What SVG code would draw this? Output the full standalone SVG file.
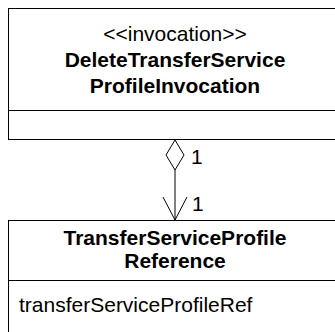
<svg xmlns="http://www.w3.org/2000/svg" width="335" height="332" viewBox="0 0 335 332">
<style>
.box{fill:#fff;stroke:#000;stroke-width:1}
.ln{stroke:#000;stroke-width:1;fill:none}
text{font-family:"Liberation Sans",Arial,sans-serif;font-size:21px;fill:#000}
.b{font-weight:bold;text-anchor:middle}
.c{text-anchor:middle}
</style>
<rect width="335" height="332" fill="#fff"/>
<g id="connectors">
<line class="ln" x1="175" y1="170" x2="175" y2="220"/>
<path class="ln" d="M175,140 L184,155 L175,170 L166,155 Z" fill="#fff"/>
<path class="ln" d="M163,197 L175,220 L187,197"/>
<text x="191" y="164">1</text>
<text x="192" y="211">1</text>
</g>
<g id="DeleteTransferServiceProfileInvocation">
<rect class="box" x="8.5" y="8.5" width="340" height="131"/>
<line class="ln" x1="8.5" y1="110.5" x2="348" y2="110.5"/>
<text class="c" x="175" y="41">&lt;&lt;invocation&gt;&gt;</text>
<text class="b" x="175" y="67">DeleteTransferService</text>
<text class="b" x="175" y="93">ProfileInvocation</text>
</g>
<g id="TransferServiceProfileReference">
<rect class="box" x="8.5" y="220.5" width="340" height="130"/>
<line class="ln" x1="8.5" y1="280.5" x2="348" y2="280.5"/>
<text class="b" x="175" y="245">TransferServiceProfile</text>
<text class="b" x="175" y="268">Reference</text>
<text x="19" y="312">transferServiceProfileRef</text>
</g>
</svg>
